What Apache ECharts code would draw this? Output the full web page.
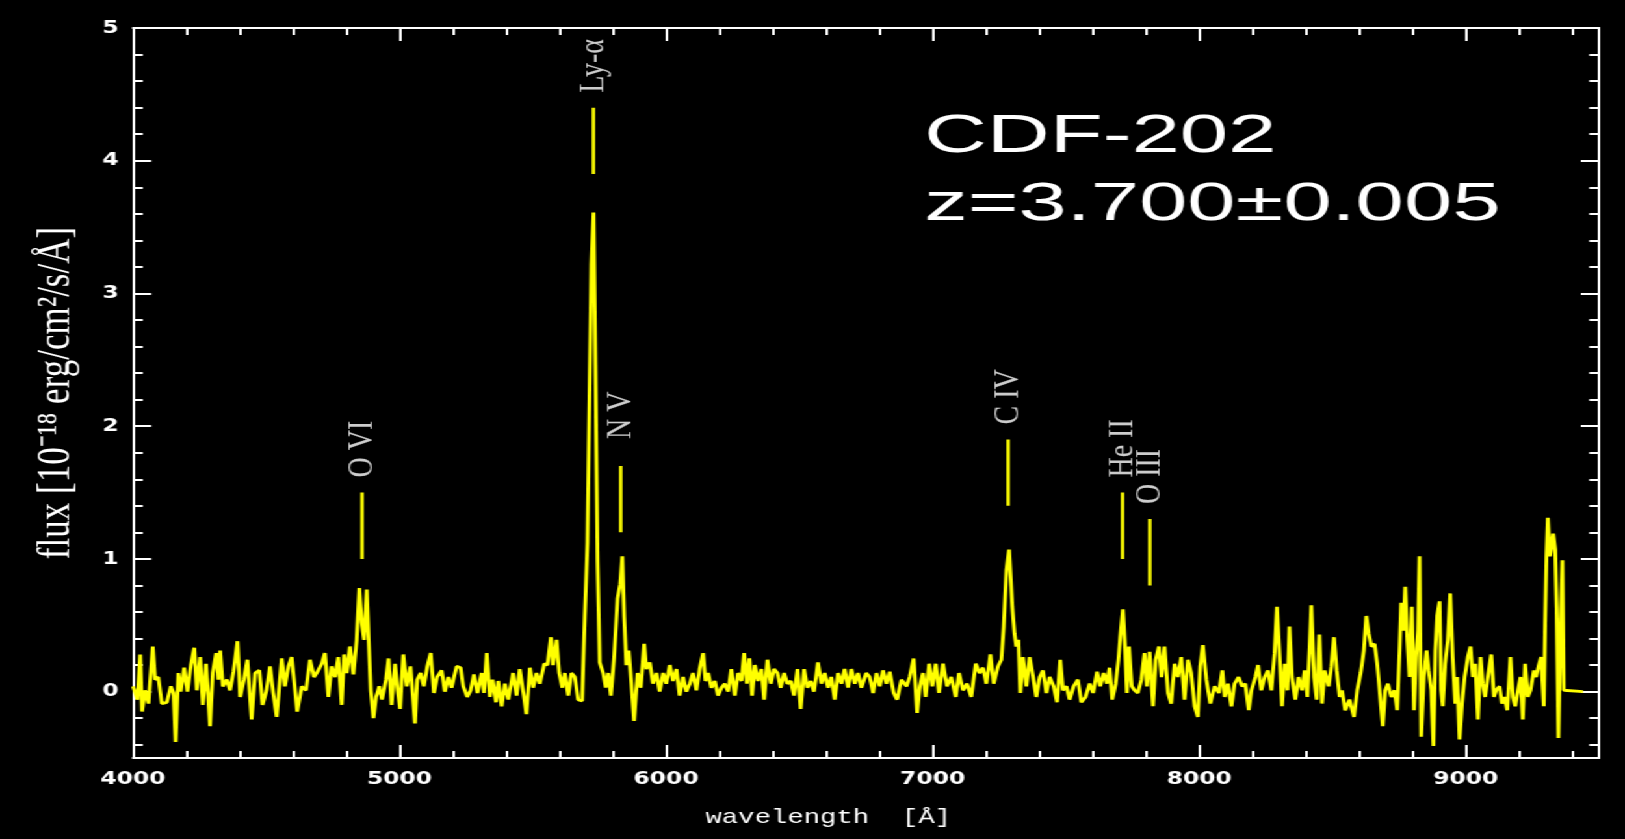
<!DOCTYPE html>
<html>
<head>
<meta charset="utf-8">
<script src="https://cdn.jsdelivr.net/npm/echarts@6/dist/echarts.min.js"></script>
<style>
  html, body { margin: 0; padding: 0; background: #000; overflow: hidden; }
  #wrap { width: 1625px; height: 839px; overflow: hidden; background: #000; }
  /* the plot is drawn on a narrower canvas and widened, giving the broad lettering of the figure */
  #chart { width: 1250px; height: 839px; transform: scaleX(1.3); transform-origin: 0 0; }
</style>
</head>
<body>
<div id="wrap"><div id="chart"></div></div>
<script>
// Observed-frame spectrum of CDF-202: wavelength [Å] and flux [1e-18 erg/cm2/s/Å]
const wavelength = [
  4000,4017,4027,4034,4045,4058,4074,4083,4095,4108,4127,4142,4152,4160,4170,4179,4192,4204,4217,4230,
  4239,4252,4262,4274,4289,4299,4312,4320,4327,4337,4352,4364,4377,4392,4402,4416,4429,4445,4458,4474,
  4486,4501,4514,4526,4539,4558,4570,4583,4595,4604,4616,4633,4649,4664,4679,4692,4708,4720,4733,4745,
  4758,4770,4783,4792,4802,4814,4827,4839,4849,4858,4867,4877,4884,4892,4902,4912,4924,4934,4949,4959,
  4970,4983,4993,5002,5014,5027,5041,5058,5066,5079,5091,5104,5117,5129,5141,5158,5170,5183,5195,5214,
  5229,5239,5254,5267,5279,5292,5308,5317,5327,5339,5349,5362,
  5370,5383,5395,5408,5426,5439,5451,5464,5476,5489,5501,5514,5526,5543,5555,5568,5576,5589,5599,5611,
  5620,5633,5645,5658,5670,5685,5695,5705,5713,5720,5728,5735,5743,5751,5764,5774,5783,5793,5805,5818,
  5828,5836,5843,5851,5860,5870,5880,5893,5905,5918,5926,5939,5951,5964,5976,5989,6001,6014,6026,6039,
  6051,6064,6076,6089,6101,6114,6126,6139,6148,6158,6170,6183,6195,6208,6220,6233,6245,6258,6270,6283,
  6293,6303,6313,6323,6333,6345,6358,6368,6380,6393,6405,6418,6430,6443,6455,6468,6480,6493,6505,6518,
  6530,6543,6555,6570,6583,6595,6608,6620,6633,6645,6658,6670,6683,6695,6708,6720,6733,6751,
  6764,6777,6789,6802,6814,6827,6839,6854,6867,6883,6902,6914,6929,6942,6952,6964,6974,6987,6999,7012,
  7024,7039,7054,7070,7087,7099,7114,7129,7145,7162,7176,7189,7202,7217,7229,7245,7258,7267,7277,7287,
  7294,7299,7307,7314,7322,7329,7339,7352,7364,7377,7389,7402,7414,7427,7439,7454,7467,7479,7489,7502,
  7514,7529,7545,7558,7574,7589,7602,7617,7629,7642,7654,7664,7674,7687,7697,7704,7714,7722,7729,7737,
  7747,7758,7770,7783,7795,7804,7814,7827,7837,7849,7859,7870,7883,7895,7908,7920,7933,7945,7958,7970,
  7983,7995,8004,8014,8027,8042,8058,8074,8087,
  8096,8108,8121,8133,8148,8161,8173,8186,8196,8211,8221,8233,8246,8258,8271,8283,8292,8302,8311,8321,
  8331,8339,8348,8361,8373,8386,8396,8406,8414,8421,8431,8441,8451,8461,8471,8486,8496,8506,8516,8527,
  8536,8548,8564,8581,8593,8606,8618,8627,8636,8646,8658,8668,8677,8689,8698,8708,8721,8733,8743,8752,
  8758,8766,8773,8781,8789,8798,8806,8814,8821,8827,8833,8843,8853,8861,8871,8879,8886,8893,8902,8908,
  8914,8923,8933,8942,8951,8961,8968,8977,8986,8996,9008,9018,9027,9036,9046,9056,9064,9073,9083,9096,
  9106,9114,9127,9136,9146,9156,9168,9177,9186,9196,9206,9214,9223,9233,9243,9256,9264,9273,9283,9293,
  9298,9303,9308,9316,9321,9328,9336,9341,9348,9356,9363,9368,9377,9440
];
const flux = [
  0.04,-0.06,0.28,-0.15,0.01,-0.09,0.34,0.09,0.11,-0.09,-0.08,0.04,-0.01,-0.38,0.14,0.00,0.18,0.00,0.20,0.33,
  0.01,0.26,-0.10,0.21,-0.26,0.14,0.29,0.09,0.31,0.04,0.09,0.01,0.15,0.38,-0.04,0.09,0.24,-0.21,0.14,0.16,
  -0.10,0.01,0.19,-0.01,-0.19,0.25,0.04,0.19,0.26,0.09,-0.15,0.04,0.01,0.24,0.11,0.15,0.21,0.29,-0.04,0.19,
  0.11,0.26,-0.10,0.28,0.14,0.34,0.13,0.39,0.78,0.52,0.39,0.77,0.39,0.01,-0.20,-0.04,0.04,-0.06,0.09,0.25,
  -0.10,0.21,0.01,-0.13,0.28,0.04,0.19,-0.24,0.09,0.14,0.04,0.19,0.29,-0.01,0.11,0.16,0.00,0.11,0.03,0.19,
  0.18,0.04,-0.04,0.01,0.13,-0.01,0.14,-0.01,0.29,-0.04,0.09,-0.08,
  0.08,-0.11,0.06,-0.06,0.14,-0.03,0.17,0.00,-0.17,0.18,0.03,0.14,0.06,0.21,0.20,0.41,0.20,0.39,0.14,0.03,
  0.14,-0.03,0.14,0.11,-0.06,-0.07,0.56,1.12,2.27,3.22,3.61,2.46,0.98,0.22,0.14,0.03,0.14,-0.03,0.25,0.70,
  0.81,1.02,0.56,0.20,0.31,0.06,-0.22,0.14,0.03,0.36,0.17,0.22,0.06,0.14,0.00,0.14,0.06,0.20,0.08,0.17,
  -0.03,0.11,0.00,0.06,0.14,0.01,0.17,0.29,0.08,0.14,0.03,0.08,-0.03,0.03,0.06,0.00,0.17,-0.03,0.14,0.08,
  0.29,0.06,0.25,-0.03,0.20,0.08,0.17,-0.06,0.24,0.06,0.17,0.14,0.03,0.14,0.06,0.08,-0.03,0.17,-0.13,0.17,
  0.03,0.08,0.00,0.22,0.06,0.14,0.03,0.11,-0.06,0.14,0.06,0.17,0.03,0.17,0.06,0.14,0.03,0.14,
  0.11,-0.01,0.14,0.04,0.16,0.06,0.15,-0.01,-0.06,0.09,0.04,0.11,0.25,-0.16,0.04,0.14,-0.04,0.21,0.04,0.21,
  -0.01,0.21,0.04,0.11,-0.04,0.14,0.01,0.06,-0.04,0.21,0.14,0.18,0.06,0.28,0.06,0.19,0.24,0.49,0.92,1.07,
  1.06,0.64,0.44,0.34,0.39,-0.01,0.26,0.04,0.26,0.11,-0.04,0.11,0.16,-0.01,0.11,0.04,-0.08,0.24,0.01,0.04,
  -0.06,0.04,0.09,-0.08,-0.04,0.06,-0.01,0.15,0.04,0.14,0.06,0.18,-0.06,0.06,0.24,0.41,0.62,0.34,-0.01,0.34,
  0.04,0.01,-0.01,0.09,0.29,0.04,0.30,-0.11,0.24,0.34,0.11,0.34,-0.01,-0.09,0.21,0.11,0.26,-0.06,0.24,0.14,
  -0.11,-0.19,0.19,0.35,0.09,-0.09,0.04,-0.01,0.16,
  -0.04,0.06,-0.11,0.06,0.11,0.04,0.06,-0.14,0.01,0.11,0.20,0.01,0.11,0.16,0.01,0.29,0.64,0.26,-0.11,0.21,
  0.01,0.49,0.11,-0.06,0.11,0.01,0.16,-0.04,0.31,0.65,0.11,-0.06,0.43,-0.09,0.16,0.04,0.19,0.41,0.16,-0.04,
  0.01,-0.14,-0.06,-0.19,0.01,0.14,0.31,0.57,0.44,0.34,0.36,0.21,0.01,-0.26,0.01,0.06,-0.04,0.01,-0.14,0.31,
  0.67,0.46,0.79,0.39,0.11,0.64,-0.14,0.26,0.46,1.02,-0.34,0.11,0.31,0.16,0.01,-0.41,0.31,0.57,0.68,0.01,
  -0.11,0.21,0.39,0.74,0.26,-0.09,0.11,-0.36,-0.09,0.11,0.26,0.34,0.11,0.21,-0.21,0.26,0.06,-0.04,0.11,0.28,
  -0.04,0.01,0.04,-0.09,-0.04,-0.14,0.26,-0.04,-0.11,0.01,0.11,-0.21,0.21,-0.04,0.01,0.16,0.11,0.19,0.26,-0.11,
  0.52,1.02,1.31,1.02,1.07,1.19,1.07,0.64,-0.35,0.52,0.99,0.01,0.00,0.00
];

// Identified emission lines: name, observed wavelength, extent of the tick mark above the line
const lineNames = ['O VI', 'Ly-α', 'N V', 'C IV', 'He II', 'O III'];
const lineWavelengths = [4860, 5726, 5829, 7282, 7711, 7816];
const markLow = [1.0, 3.9, 1.2, 1.4, 1.0, 0.8];
const markHigh = [1.5, 4.4, 1.7, 1.9, 1.5, 1.3];

// Axis ticks
const xMajorTicks = [4000, 5000, 6000, 7000, 8000, 9000];
const xMinorTicks = [4200, 4400, 4600, 4800, 5200, 5400, 5600, 5800, 6200, 6400, 6600, 6800,
                     7200, 7400, 7600, 7800, 8200, 8400, 8600, 8800, 9200, 9400];
const yMajorTicks = [0, 1, 2, 3, 4, 5];
const yMinorTicks = [-0.4, -0.2, 0.2, 0.4, 0.6, 0.8, 1.2, 1.4, 1.6, 1.8, 2.2, 2.4, 2.6, 2.8,
                     3.2, 3.4, 3.6, 3.8, 4.2, 4.4, 4.6, 4.8];

const objectName = 'CDF-202';
const redshiftText = 'z=3.700±0.005';
const xTitle = 'wavelength  [Å]';
const yTitle = 'flux [10⁻¹⁸ erg/cm²/s/Å]';

const WHITE = '#ffffff';
const YELLOW = '#ffff00';
const X_RANGE = { min: 4000, max: 9500 };
const Y_RANGE = { min: -0.5, max: 5 };
const tickStyle = { color: WHITE, width: 2 };
const tickLabelStyle = {
  show: true, color: WHITE, fontFamily: 'DejaVu Sans', fontWeight: 'bold', fontSize: 18,
  formatter: (v) => String(v)
};

function xAxisDef(position, ticks, len, withLine, withLabels) {
  return {
    type: 'value', position: position, ...X_RANGE,
    splitLine: { show: false },
    axisLine: { show: withLine, onZero: false, lineStyle: { color: WHITE, width: 2 } },
    axisTick: { show: true, inside: true, length: len, customValues: ticks, lineStyle: tickStyle },
    axisLabel: withLabels ? { ...tickLabelStyle, customValues: ticks, margin: 12 } : { show: false }
  };
}
function yAxisDef(position, ticks, len, withLine, withLabels) {
  return {
    type: 'value', position: position, ...Y_RANGE,
    splitLine: { show: false },
    axisLine: { show: withLine, onZero: false, lineStyle: { color: WHITE, width: 2 } },
    axisTick: { show: true, inside: true, length: len, customValues: ticks, lineStyle: tickStyle },
    axisLabel: withLabels ? { ...tickLabelStyle, customValues: ticks, margin: 11 } : { show: false }
  };
}

const xBottom = xAxisDef('bottom', xMajorTicks, 13, true, true);
Object.assign(xBottom, {
  name: xTitle, nameLocation: 'middle', nameGap: 49,
  nameTextStyle: { color: WHITE, fontFamily: 'Liberation Mono', fontSize: 21, padding: [0, 58, 0, 0] }
});
const yLeft = yAxisDef('left', yMajorTicks, 14, true, true);
Object.assign(yLeft, {
  name: yTitle, nameLocation: 'middle', nameGap: 41,
  nameTextStyle: { color: WHITE, fontFamily: 'Liberation Serif', fontSize: 35 }
});

const spectrum = wavelength.map((w, i) => [w, flux[i]]);

const chart = echarts.init(document.getElementById('chart'), null, { renderer: 'canvas' });
chart.setOption({
  backgroundColor: '#000000',
  animation: false,
  grid: { left: 102.3, right: 20, top: 28, bottom: 81, containLabel: false, outerBoundsMode: 'none' },
  xAxis: [
    xBottom,
    xAxisDef('bottom', xMinorTicks, 7, false, false),
    xAxisDef('top', xMajorTicks, 13, true, false),
    xAxisDef('top', xMinorTicks, 7, false, false)
  ],
  yAxis: [
    yLeft,
    yAxisDef('left', yMinorTicks, 7.5, false, false),
    yAxisDef('right', yMajorTicks, 14, true, false),
    yAxisDef('right', yMinorTicks, 7.5, false, false)
  ],
  series: [
    {
      type: 'line', name: 'flux', data: spectrum,
      xAxisIndex: 0, yAxisIndex: 0,
      showSymbol: false, symbol: 'none',
      lineStyle: { color: YELLOW, width: 2.9 },
      z: 3
    },
    {
      type: 'lines', coordinateSystem: 'cartesian2d',
      xAxisIndex: 0, yAxisIndex: 0,
      data: lineWavelengths.map((w, i) => ({ coords: [[w, markLow[i]], [w, markHigh[i]]] })),
      lineStyle: { color: YELLOW, width: 2.6, opacity: 1 },
      z: 3
    },
    {
      type: 'scatter', name: 'lines',
      xAxisIndex: 0, yAxisIndex: 0,
      symbolSize: 0,
      data: lineWavelengths.map((w, i) => ({
        name: lineNames[i],
        value: [w, markHigh[i]],
        label: lineNames[i] === 'N V' ? { distance: 27 } : undefined
      })),
      label: {
        show: true, formatter: '{b}', position: 'top', distance: 15, rotate: 90,
        align: 'left', verticalAlign: 'middle',
        color: WHITE, fontFamily: 'Liberation Serif', fontSize: 28
      },
      z: 4
    }
  ],
  graphic: [
    {
      type: 'text', x: 711, y: 111, scaleX: 1.26,
      style: { text: objectName, fill: WHITE, font: '53px "Liberation Sans"', verticalAlign: 'top' }
    },
    {
      type: 'text', x: 711, y: 179, scaleX: 1.26,
      style: { text: redshiftText, fill: WHITE, font: '53px "Liberation Sans"', verticalAlign: 'top' }
    }
  ]
});
</script>
</body>
</html>
